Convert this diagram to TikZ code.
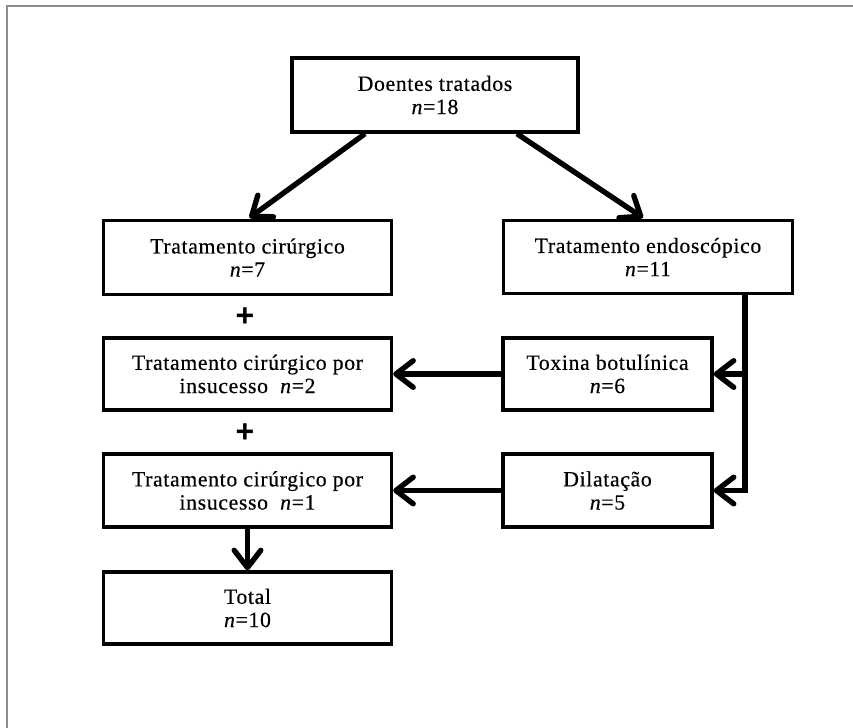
\documentclass[tikz,border=0pt]{standalone}
\usepackage{fontspec}
\setmainfont{Liberation Serif}[LetterSpace=3,FakeBold=0.4]
\newfontfamily\plusfont{Liberation Sans}
\usetikzlibrary{arrows.meta,calc}
\tikzset{
  box/.style={draw=black, line width=2.6pt, rectangle, align=center, inner sep=0pt,
    font=\fontsize{16.3}{17.4}\selectfont},
  arr/.style={line width=4pt, -{Straight Barb[length=13pt,width=20pt,line cap=round,line join=round]}},
  conn/.style={line width=4pt},
  plus/.style={font=\plusfont\bfseries\fontsize{24}{24}\selectfont, inner sep=0pt},
  frame/.style={draw=black!45, line width=1.6pt}
}
\begin{document}
\begin{tikzpicture}[x=0.75pt,y=-0.75pt]
\useasboundingbox (0,0) rectangle (853,728);
\draw[frame] (7,728) -- (7,6) -- (853,6);

\node[box, minimum width=286*0.75pt, minimum height=74*0.75pt] (doentes) at (435,95) {Doentes tratados\\\textit{n}=18};
\node[box, minimum width=288*0.75pt, minimum height=74*0.75pt] (cir) at (247.5,257.5) {Tratamento cirúrgico\\\textit{n}=7};
\node[box, minimum width=289*0.75pt, minimum height=73*0.75pt] (endo) at (648,257) {Tratamento endoscópico\\\textit{n}=11};
\node[box, minimum width=288*0.75pt, minimum height=72*0.75pt] (ins2) at (247.5,374) {Tratamento cirúrgico por\\insucesso~~\textit{n}=2};
\node[box, minimum width=209*0.75pt, minimum height=72*0.75pt] (tox) at (607.5,374) {Toxina botulínica\\\textit{n}=6};
\node[box, minimum width=288*0.75pt, minimum height=73*0.75pt] (ins1) at (247.5,490.5) {Tratamento cirúrgico por\\insucesso~~\textit{n}=1};
\node[box, minimum width=209*0.75pt, minimum height=73*0.75pt] (dil) at (607.5,490.5) {Dilatação\\\textit{n}=5};
\node[box, minimum width=288*0.75pt, minimum height=72*0.75pt] (total) at (247.5,608) {Total\\\textit{n}=10};

\node[plus] (p1) at (245,317) {+};
\node[plus] (p2) at (245,433) {+};

\coordinate (d1) at ($(doentes.south)+(-70,0)$);
\coordinate (d2) at ($(doentes.south)+(82,0)$);
\coordinate (c1) at ($(cir.north)+(2,-1)$);
\coordinate (e1) at ($(endo.north)+(-5,-1)$);
\draw[arr] (d1) -- (c1);
\draw[arr] (d2) -- (e1);

\coordinate (v0) at ($(endo.south)+(97,0)$);
\coordinate (vt) at (v0 |- tox.east);
\coordinate (vd) at (v0 |- dil.east);
\draw[conn] (v0) -- (vd);
\draw[arr] ([xshift=2pt]vd) -- (dil.east);
\draw[arr] (vt) -- (tox.east);

\draw[arr] (tox.west) -- (ins2.east);
\draw[arr] (dil.west) -- (ins1.east);
\draw[arr] (ins1.south) -- (total.north);
\end{tikzpicture}
\end{document}
